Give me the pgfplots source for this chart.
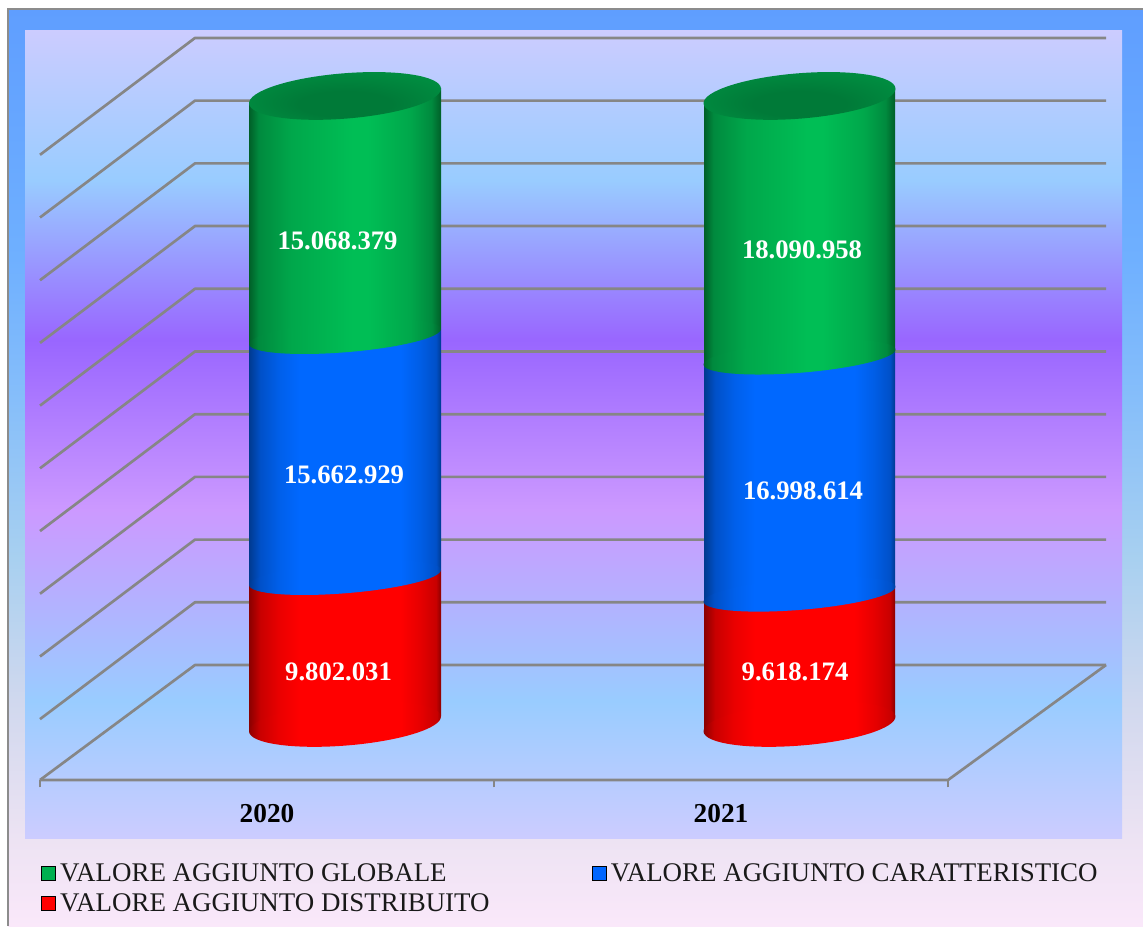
\documentclass[border=0pt]{standalone}
\usepackage{fontspec}
\setmainfont{Liberation Serif}
\usepackage{pgfplots}
\usepackage{pgfplotstable}
\pgfplotsset{compat=1.18}
\definecolor{gridc}{HTML}{868686}
\definecolor{legG}{HTML}{00B050}
\definecolor{legB}{HTML}{0066FF}
\definecolor{legR}{HTML}{FF0000}
\definecolor{pA}{HTML}{CCCCFF}\definecolor{pB}{HTML}{99CCFF}\definecolor{pC}{HTML}{CC99FF}\definecolor{pD}{HTML}{9966FF}
\definecolor{oA}{HTML}{FAE8FA}\definecolor{oB}{HTML}{EDE3F3}\definecolor{oC}{HTML}{D0D8EE}\definecolor{oD}{HTML}{A8D0F0}
\definecolor{oE}{HTML}{86BEFA}\definecolor{oF}{HTML}{6FB0FF}\definecolor{oG}{HTML}{5F9EFF}
\pgfdeclareverticalshading{plotbg}{100bp}{
 color(0bp)=(pA); color(25bp)=(pA); color(33.5bp)=(pB); color(45.3bp)=(pC);
 color(55.8bp)=(pD); color(65.7bp)=(pB); color(75bp)=(pA); color(100bp)=(pA)}
\pgfdeclareverticalshading{outerbg}{100bp}{
 color(0bp)=(oA); color(25bp)=(oA); color(29.7bp)=(oB); color(37.3bp)=(oC);
 color(45bp)=(oD); color(53.7bp)=(oE); color(61.4bp)=(oF); color(75bp)=(oG); color(100bp)=(oG)}
\definecolor{gE}{HTML}{005F28}\definecolor{gM}{HTML}{008A3E}\definecolor{gC}{HTML}{00BE55}
\definecolor{bE}{HTML}{003A90}\definecolor{bM}{HTML}{0050C8}\definecolor{bC}{HTML}{0068FF}
\definecolor{rE}{HTML}{8A0000}\definecolor{rM}{HTML}{C80000}\definecolor{rC}{HTML}{FF0000}
\definecolor{tI}{HTML}{007A38}\definecolor{tO}{HTML}{008E41}
\pgfdeclarehorizontalshading{cylG}{100bp}{
 color(0bp)=(gE); color(25bp)=(gE); color(27.5bp)=(gM);
 color(36bp)=(gC!88!black); color(52bp)=(gC); color(56bp)=(gC);
 color(67bp)=(gC!88!black); color(72.5bp)=(gM); color(75bp)=(gE); color(100bp)=(gE)}
\pgfdeclarehorizontalshading{cylB}{100bp}{
 color(0bp)=(bE); color(25bp)=(bE); color(27.9bp)=(bM); color(33bp)=(bC!92!black);
 color(38.3bp)=(bC); color(64.4bp)=(bC); color(69.6bp)=(bC!90!black); color(73.7bp)=(bM); color(75bp)=(bE); color(100bp)=(bE)}
\pgfdeclarehorizontalshading{cylR}{100bp}{
 color(0bp)=(rE); color(25bp)=(rE); color(27.9bp)=(rM); color(33bp)=(rC!92!black);
 color(38.3bp)=(rC); color(64.4bp)=(rC); color(69.6bp)=(rC!90!black); color(73.7bp)=(rM); color(75bp)=(rE); color(100bp)=(rE)}
\pgfdeclareradialshading{capG}{\pgfpoint{0bp}{-10bp}}{color(0bp)=(tI); color(12bp)=(tI); color(30bp)=(tO); color(50bp)=(tO)}
\newcommand{\ellmark}[2]{%
 \pgfscope
 \pgftransformrotate{4.6}%
 \pgfpathellipse{\pgfpointorigin}{\pgfqpoint{72.2pt}{0pt}}{\pgfqpoint{0pt}{#2}}%
 \pgfshadepath{#1}{0}%
 \pgfusepath{discard}%
 \endpgfscope}
\pgfdeclareplotmark{ellG}{\ellmark{cylG}{11.8pt}}
\pgfdeclareplotmark{ellB}{\ellmark{cylB}{11.8pt}}
\pgfdeclareplotmark{ellR}{\ellmark{cylR}{16.2pt}}
\pgfdeclareplotmark{ellTop}{\ellmark{capG}{17pt}}
% x in image-like units; raw values and their share of the 100% stack
\pgfplotstableread{
x    red      blue     green    redtop bluetop base top
345  9802031  15662929 15068379 24.183 62.825  0.7  101.4
799.5 9618174 16998614 18090958 21.513 59.535  0.7  101.4
}\datatable
\begin{document}
\begin{tikzpicture}
\useasboundingbox (0,0) rectangle (857.25pt,-694.5pt);
\begin{scope}[x=.75pt,y=-.75pt]
 \fill[white] (0,0) rectangle (1143,926);
 \shade[shading=outerbg] (8,9) rectangle (1143,926);
 \draw[color=gray!90,line width=1.5pt] (8,926) -- (8,9) -- (1143,9);
 \shade[shading=plotbg] (25,30) rectangle (1122,838);
\end{scope}
\begin{axis}[
 at={(30pt,-585pt)},anchor=south west,
 scale only axis,width=799.5pt,height=556.5pt,
 xmin=40,xmax=1106,ymin=-8.29,ymax=110.69,
 clip=false,
 x axis line style={draw=none},y axis line style={draw=none},
 ytick=\empty,
 xtick={40,494,948},xticklabels={,,},
 xtick pos=bottom,tick align=outside,
 major tick length=5.5pt,
 tick style={color=gridc,line width=1.2pt},
 extra x ticks={267,721},
 extra x tick labels={2020,2021},
 extra x tick style={major tick length=0pt,tick style={draw=none},
   xticklabel style={font=\fontsize{20.5}{24}\selectfont\bfseries,text=black,yshift=-14.5pt}},
 legend image code/.code={\draw[#1] (0pt,-5.25pt) rectangle (10.5pt,5.25pt);},
 legend columns=2,
 legend cell align=left,
 legend style={at={(axis cs:41,-21.2)},anchor=north west,draw=none,fill=none,
   font=\fontsize{20.2}{22.5}\selectfont,text=black!90,inner sep=0pt,outer sep=0pt,
   row sep=3.75pt,
   /tikz/every even column/.append style={column sep=73pt},
   nodes={inner xsep=3.5pt}},
]
% floor front edge and right edge, wall grid
\addplot[forget plot,gridc,line width=2pt,line join=round] coordinates {(40,-8.29)(948,-8.29)(1106,10.15)};
\addplot[forget plot,gridc,line width=2pt,line join=round] coordinates {(40,-8.29)(195,10.15)(1106,10.15)};
\addplot[forget plot,gridc,line width=2pt,line join=round] coordinates {(40,1.47)(195,20.21)(1106,20.21)};
\addplot[forget plot,gridc,line width=2pt,line join=round] coordinates {(40,11.52)(195,30.26)(1106,30.26)};
\addplot[forget plot,gridc,line width=2pt,line join=round] coordinates {(40,21.58)(195,40.32)(1106,40.32)};
\addplot[forget plot,gridc,line width=2pt,line join=round] coordinates {(40,31.63)(195,50.37)(1106,50.37)};
\addplot[forget plot,gridc,line width=2pt,line join=round] coordinates {(40,41.69)(195,60.43)(1106,60.43)};
\addplot[forget plot,gridc,line width=2pt,line join=round] coordinates {(40,51.74)(195,70.48)(1106,70.48)};
\addplot[forget plot,gridc,line width=2pt,line join=round] coordinates {(40,61.80)(195,80.54)(1106,80.54)};
\addplot[forget plot,gridc,line width=2pt,line join=round] coordinates {(40,71.85)(195,90.59)(1106,90.59)};
\addplot[forget plot,gridc,line width=2pt,line join=round] coordinates {(40,81.91)(195,100.65)(1106,100.65)};
\addplot[forget plot,gridc,line width=2pt,line join=round] coordinates {(40,91.96)(195,110.70)(1106,110.70)};
% red
\addplot[forget plot,only marks,mark=ellR] table[x=x,y=base]{\datatable};
\addplot[forget plot,draw=none,shading=cylR,shade] coordinates {(249,-0.5)(441,1.9)(441,25.383)(249,22.983)} --cycle;
\addplot[forget plot,draw=none,shading=cylR,shade] coordinates {(704,-0.5)(895,1.9)(895,22.713)(704,20.313)} --cycle;
% blue
\addplot[forget plot,only marks,mark=ellB] table[x=x,y=redtop]{\datatable};
\addplot[forget plot,draw=none,shading=cylB,shade] coordinates {(249,22.983)(441,25.383)(441,64.025)(249,61.625)} --cycle;
\addplot[forget plot,draw=none,shading=cylB,shade] coordinates {(704,20.313)(895,22.713)(895,60.735)(704,58.335)} --cycle;
% green
\addplot[forget plot,only marks,mark=ellG] table[x=x,y=bluetop]{\datatable};
\addplot[forget plot,draw=none,shading=cylG,shade] coordinates {(249,61.625)(441,64.025)(441,102.7)(249,100.3)} --cycle;
\addplot[forget plot,draw=none,shading=cylG,shade] coordinates {(704,58.335)(895,60.735)(895,102.7)(704,100.3)} --cycle;
\addplot[forget plot,only marks,mark=ellTop] table[x=x,y=top]{\datatable};
% labels
\addplot[forget plot,only marks,mark=none,point meta=explicit symbolic,
 nodes near coords,nodes near coords align={anchor=center},
 every node near coord/.append style={font=\fontsize{20}{24}\selectfont\bfseries,text=white,inner sep=0pt}]
 coordinates {
 (337.5,78.14)[15.068.379]
 (344,40.6)[15.662.929]
 (338.5,9.03)[9.802.031]
 (802,76.7)[18.090.958]
 (803,38.05)[16.998.614]
 (795,9.03)[9.618.174]
 };
\addlegendimage{fill=legG,draw=none}
\addlegendentry{VALORE AGGIUNTO GLOBALE}
\addlegendimage{fill=legB,draw=none}
\addlegendentry{VALORE AGGIUNTO CARATTERISTICO}
\addlegendimage{fill=legR,draw=none}
\addlegendentry{VALORE AGGIUNTO DISTRIBUITO}
\end{axis}
\end{tikzpicture}
\end{document}
